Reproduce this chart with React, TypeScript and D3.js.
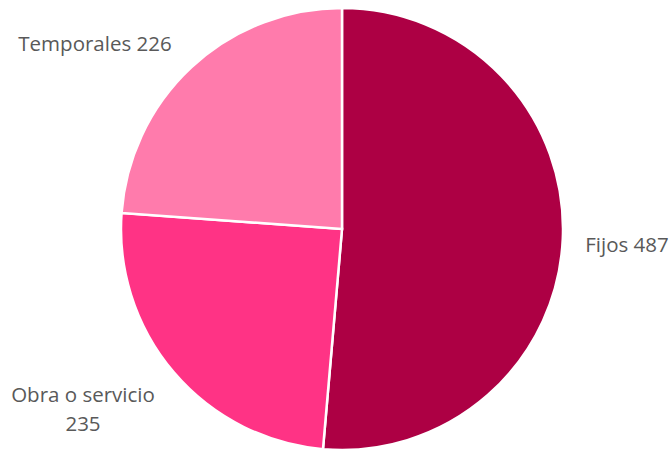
import React from "react";
import * as d3 from "d3";

const categories = ["Fijos", "Obra o servicio", "Temporales"];
const values = [487, 235, 226];
const colors = ["#AD0044", "#FF3385", "#FF7BAC"];

export default function App() {
  const W = 670, H = 450;
  const cx = 342, cy = 229, r = 221;
  const data = categories.map((c, i) => ({ c, v: values[i], col: colors[i] }));
  const pie = d3.pie<any>().value((d) => d.v).sort(null);
  const arcs = pie(data);
  const arc = d3.arc<any>().innerRadius(0).outerRadius(r);
  const font = "'Open Sans', 'Segoe UI', sans-serif";
  return (
    <svg width={W} height={H} style={{ position: "absolute", left: 0, top: 0 }}>
      <rect width={W} height={H} fill="#fff" />
      <g transform={`translate(${cx},${cy})`}>
        {arcs.map((a, i) => (
          <path key={i} d={arc(a) as string} fill={a.data.col} stroke="#fff" strokeWidth={2.5} />
        ))}
      </g>
      <g fontFamily={font} fontSize={20.5} fill="#595959">
        <text x={627} y={252} textAnchor="middle">{`${categories[0]} ${values[0]}`}</text>
        <text x={83} y={402} textAnchor="middle">{categories[1]}</text>
        <text x={83} y={431} textAnchor="middle">{values[1]}</text>
        <text x={95} y={51} textAnchor="middle">{`${categories[2]} ${values[2]}`}</text>
      </g>
    </svg>
  );
}
